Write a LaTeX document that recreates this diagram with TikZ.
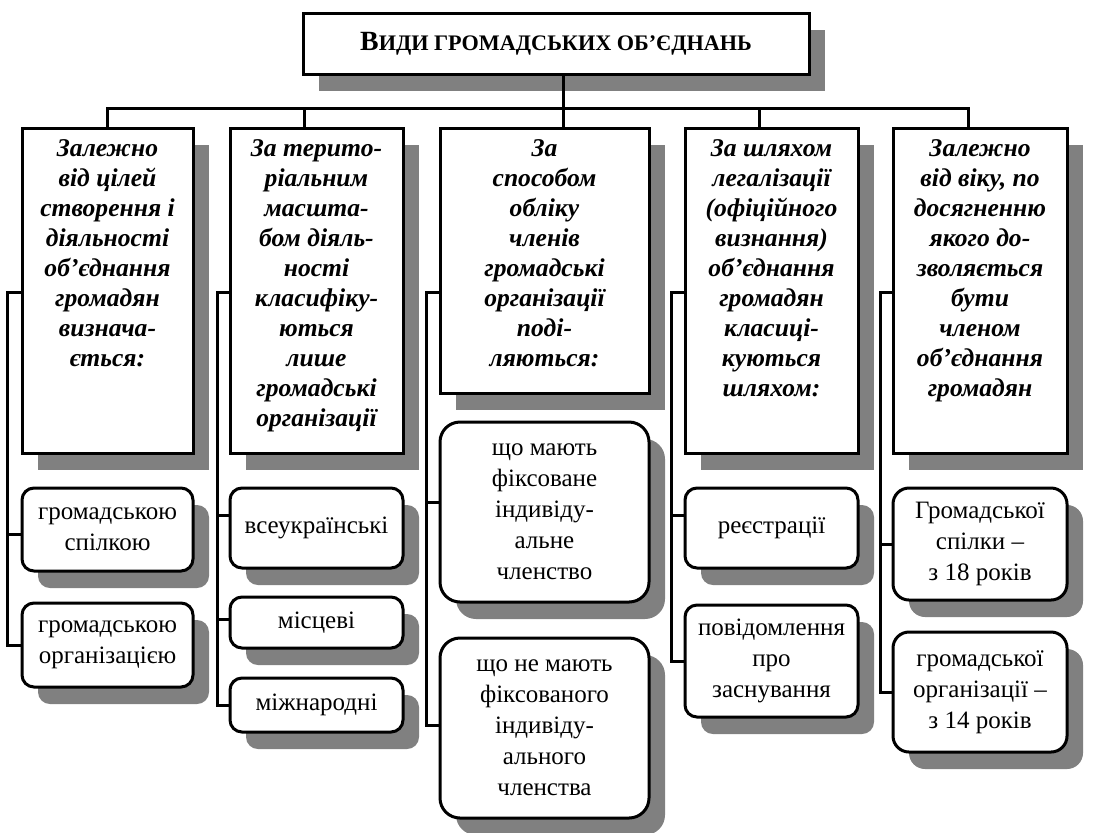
\documentclass[tikz,border=0pt]{standalone}
\usepackage{fontspec}
\setmainfont{Liberation Serif}
\usepackage{tikz}
\usetikzlibrary{shadows}

\newcommand{\cattext}[2]{\parbox[c][#1][t]{84pt}{\centering #2}}

\begin{document}
\begin{tikzpicture}[x=0.5pt, y=-0.5pt,
    box/.style={draw, line width=1.5pt, fill=white,
        drop shadow={shadow xshift=8pt, shadow yshift=-8.5pt, fill=black!50, opacity=1}},
    cat/.style={box, inner xsep=0pt, inner ysep=6pt,
        font=\bfseries\itshape\fontsize{12.8}{15}\selectfont},
    item/.style={box, rounded corners=6pt, align=center, inner sep=2pt,
        font=\fontsize{12.5}{15.5}\selectfont},
    line/.style={line width=1.5pt}]
    \useasboundingbox (0,0) rectangle (1111,832);

    % Title
    \node[box, minimum width=253pt, minimum height=30.5pt, font=\bfseries] (title) at (556,43.5)
        {{\fontsize{13.9}{15}\selectfont В}{\fontsize{11.1}{15}\selectfont ИДИ ГРОМАДСЬКИХ ОБ’ЄДНАНЬ}};

    % Criteria
    \node[cat, minimum width=85.5pt] (goal) at (107.5,290.5)
        {\cattext{150.5pt}{Залежно\\ від цілей\\ створення і\\ діяльності\\ об’єднання\\ громадян\\ визнача-\\ ється:}};
    \node[cat, minimum width=86.5pt] (terr) at (316.5,290.5)
        {\cattext{150.5pt}{За терито-\\ ріальним\\ масшта-\\ бом діяль-\\ ності\\ класифіку-\\ ються\\ лише\\ громадські\\ організації}};
    \node[cat, minimum width=104.5pt] (acct) at (544.5,260.5)
        {\cattext{120.5pt}{За\\ способом\\ обліку\\ членів\\ громадські\\ організації\\ поді-\\ ляються:}};
    \node[cat, minimum width=86.5pt] (legal) at (771.5,290.5)
        {\cattext{150.5pt}{За шляхом\\ легалізації\\ (офіційного\\ визнання)\\ об’єднання\\ громадян\\ класиці-\\ куються\\ шляхом:}};
    \node[cat, minimum width=87pt] (age) at (980,290.5)
        {\cattext{150.5pt}{Залежно\\ від віку, по\\ досягненню\\ якого до-\\ зволяється\\ бути\\ членом\\ об’єднання\\ громадян}};

    % Kinds
    \node[item, minimum width=85.5pt, minimum height=41.5pt] (union) at (107.5,529.5) {громадською\\ спілкою};
    \node[item, minimum width=85.5pt, minimum height=42pt] (org) at (107.5,645) {громадською\\ організацією};

    \node[item, minimum width=86.5pt, minimum height=40pt] (allua) at (316.5,528) {всеукраїнські};
    \node[item, minimum width=86.5pt, minimum height=25.5pt] (local) at (316.5,622.5) {місцеві};
    \node[item, minimum width=86.5pt, minimum height=27pt] (intl) at (316.5,705) {міжнародні};

    \node[item, rounded corners=10pt, minimum width=104.5pt, minimum height=90pt] (fixed) at (544.5,512)
        {що мають\\ фіксоване\\ індивіду-\\ альне\\ членство};
    \node[item, rounded corners=10pt, minimum width=104.5pt, minimum height=90pt] (nofixed) at (544.5,728)
        {що не мають\\ фіксованого\\ індивіду-\\ ального\\ членства};

    \node[item, minimum width=86.5pt, minimum height=40pt] (reg) at (771.5,528) {реєстрації};
    \node[item, minimum width=86.5pt, minimum height=56pt] (notice) at (771.5,661) {повідомлення\\ про\\ заснування};

    \node[item, rounded corners=8pt, minimum width=87pt, minimum height=56pt] (union18) at (980,544)
        {Громадської\\ спілки –\\ з 18 років};
    \node[item, rounded corners=8pt, minimum width=87pt, minimum height=60pt] (org14) at (980,692)
        {громадської\\ організації –\\ з 14 років};

    % Bus
    \coordinate (bus) at (0,108);
    \draw[line] ([xshift=9.5pt]acct.north) -- ([xshift=9.5pt]acct.north |- title.south);
    \draw[line] (goal.north) |- ([xshift=-6pt]age.north |- bus) -- ([xshift=-6pt]age.north);
    \draw[line] ([xshift=-6pt]terr.north) -- ([xshift=-6pt]terr.north |- bus);
    \draw[line] ([xshift=-6pt]legal.north) -- ([xshift=-6pt]legal.north |- bus);

    % Rails
    \coordinate (rail) at (0,292);
    \draw[line] (goal.west |- rail) -- ++(-6.5pt,0) |- (org.west);
    \draw[line] ([yshift=-2.5pt]union.west) -- ++(-6.5pt,0);
    \draw[line] (terr.west |- rail) -- ++(-5.5pt,0) |- (intl.west);
    \draw[line] ([yshift=6.5pt]allua.west) -- ++(-5.5pt,0);
    \draw[line] ([yshift=1.5pt]local.west) -- ++(-5.5pt,0);
    \draw[line] (acct.west |- rail) -- ++(-6pt,0) |- ([yshift=1.5pt]nofixed.west);
    \draw[line] ([yshift=5pt]fixed.west) -- ++(-6pt,0);
    \draw[line] (legal.west |- rail) -- ++(-6pt,0) |- (notice.west);
    \draw[line] ([yshift=6.5pt]reg.west) -- ++(-6pt,0);
    \draw[line] (age.west |- rail) -- ++(-5.5pt,0) |- (org14.west);
    \draw[line] (union18.west) -- ++(-5.5pt,0);
\end{tikzpicture}
\end{document}
